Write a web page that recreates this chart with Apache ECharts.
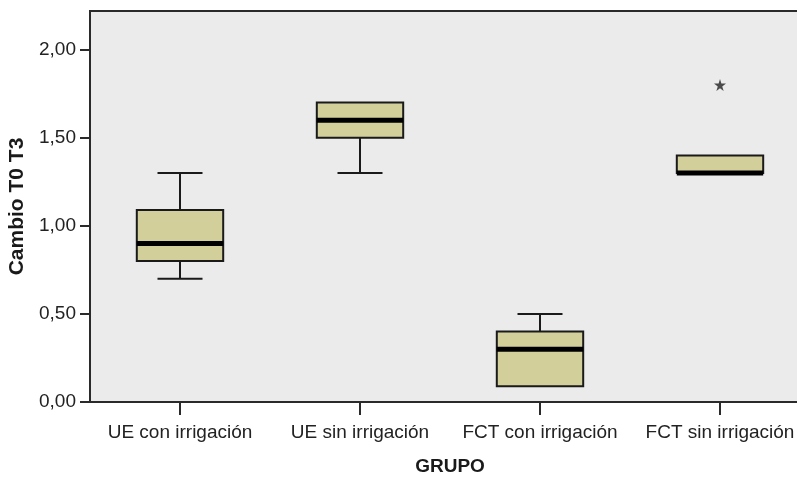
<!DOCTYPE html>
<html>
<head>
<meta charset="utf-8">
<script src="https://cdn.jsdelivr.net/npm/echarts@6/dist/echarts.min.js"></script>
<style>
html,body{margin:0;padding:0;background:#fff;overflow:hidden;width:797px;height:477px;}
#chart{width:810px;height:477px;}
</style>
</head>
<body>
<div id="chart"></div>
<script>
const categories = ['UE con irrigación', 'UE sin irrigación', 'FCT con irrigación', 'FCT sin irrigación'];
const whiskerLow  = [0.70, 1.30, 0.09, 1.30];
const quartile1   = [0.80, 1.50, 0.09, 1.30];
const medians     = [0.90, 1.60, 0.30, 1.30];
const quartile3   = [1.09, 1.70, 0.40, 1.40];
const whiskerHigh = [1.30, 1.70, 0.50, 1.40];
const outliers    = [[3, 1.80]];
const yTicks      = [0, 0.5, 1.0, 1.5, 2.0];

const boxData = categories.map((c, i) => [i, whiskerLow[i], quartile1[i], medians[i], quartile3[i], whiskerHigh[i]]);

function renderBox(params, api) {
  const idx = api.value(0);
  const lo = api.coord([idx, api.value(1)]);
  const q1 = api.coord([idx, api.value(2)]);
  const md = api.coord([idx, api.value(3)]);
  const q3 = api.coord([idx, api.value(4)]);
  const hi = api.coord([idx, api.value(5)]);
  const band = api.size([1, 0])[0];
  const bw = band * 0.48;
  const cw = band * 0.25;
  const x = lo[0];
  const children = [];
  const lineStyle = {stroke: '#1a1a1a', lineWidth: 2};
  if (hi[1] < q3[1] - 0.5) {
    children.push({type: 'line', shape: {x1: x, y1: q3[1], x2: x, y2: hi[1]}, style: lineStyle});
    children.push({type: 'line', shape: {x1: x - cw / 2, y1: hi[1], x2: x + cw / 2, y2: hi[1]}, style: lineStyle});
  }
  if (lo[1] > q1[1] + 0.5) {
    children.push({type: 'line', shape: {x1: x, y1: q1[1], x2: x, y2: lo[1]}, style: lineStyle});
    children.push({type: 'line', shape: {x1: x - cw / 2, y1: lo[1], x2: x + cw / 2, y2: lo[1]}, style: lineStyle});
  }
  children.push({type: 'rect', shape: {x: x - bw / 2, y: q3[1], width: bw, height: q1[1] - q3[1]},
    style: {fill: '#d3cf9b', stroke: '#1a1a1a', lineWidth: 2}});
  children.push({type: 'line', shape: {x1: x - bw / 2, y1: md[1], x2: x + bw / 2, y2: md[1]},
    style: {stroke: '#000', lineWidth: 5}});
  return {type: 'group', children: children};
}

const fmt = v => v.toFixed(2).replace('.', ',');

const chart = echarts.init(document.getElementById('chart'), null, {renderer: 'canvas'});
chart.setOption({
  animation: false,
  backgroundColor: '#ffffff',
  grid: {left: 90, right: 0, top: 11, bottom: 75, outerBoundsMode: 'none', containLabel: false, show: true, backgroundColor: '#ebebeb', borderColor: '#2a2a2a', borderWidth: 2},
  xAxis: {
    type: 'category',
    data: categories,
    boundaryGap: true,
    name: 'GRUPO',
    nameLocation: 'middle',
    nameGap: 55,
    nameTextStyle: {fontFamily: 'Liberation Sans, Arial, sans-serif', fontWeight: 'bold', fontSize: 19, color: '#1a1a1a'},
    axisLine: {show: true, lineStyle: {color: '#2a2a2a', width: 2}},
    axisTick: {show: true, alignWithLabel: true, interval: 0, inside: false, length: 13, lineStyle: {color: '#2a2a2a', width: 2}},
    axisLabel: {interval: 0, hideOverlap: false, margin: 21, fontFamily: 'Liberation Sans, Arial, sans-serif', fontSize: 19, color: '#222'},
    splitLine: {show: false}
  },
  yAxis: {
    type: 'value',
    min: 0,
    max: 2.22,
    interval: 0.5,
    name: 'Cambio T0 T3',
    nameLocation: 'middle',
    nameGap: 55,
    nameRotate: 90,
    nameTextStyle: {fontFamily: 'Liberation Sans, Arial, sans-serif', fontWeight: 'bold', fontSize: 21, color: '#1a1a1a'},
    axisLine: {show: true, lineStyle: {color: '#2a2a2a', width: 2}},
    axisTick: {show: true, length: 10, lineStyle: {color: '#2a2a2a', width: 2}, customValues: yTicks},
    axisLabel: {margin: 14, fontFamily: 'Liberation Sans, Arial, sans-serif', fontSize: 19, color: '#222', formatter: fmt, customValues: yTicks},
    splitLine: {show: false}
  },
  series: [
    {
      type: 'custom',
      renderItem: renderBox,
      encode: {x: 0, y: [1, 2, 3, 4, 5]},
      data: boxData,
      z: 3
    },
    {
      type: 'scatter',
      data: outliers,
      symbol: 'path://M50,0 L61,35 L98,35 L68,57 L79,91 L50,70 L21,91 L32,57 L2,35 L39,35 Z',
      symbolSize: 12,
      itemStyle: {color: '#222'},
      z: 4
    }
  ]
});
</script>
</body>
</html>
